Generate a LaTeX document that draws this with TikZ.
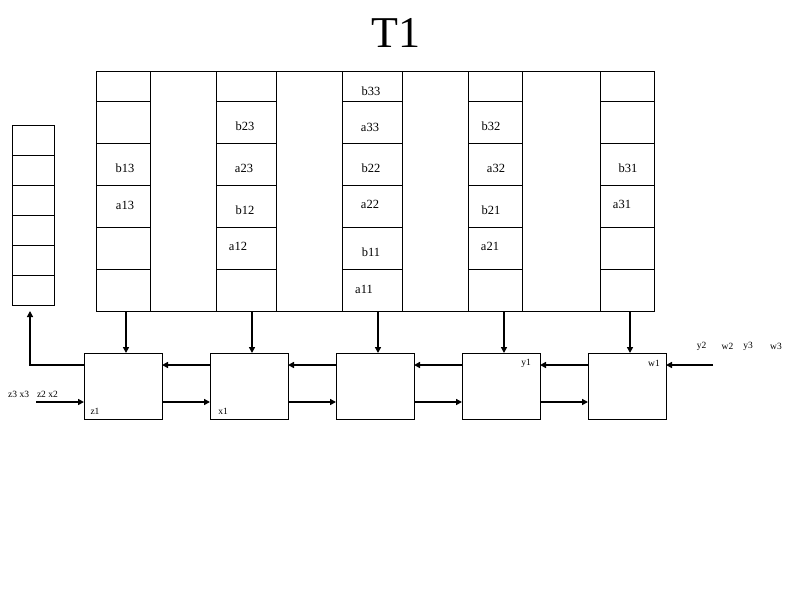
\documentclass[tikz,border=0pt]{standalone}
\usepackage{fontspec}
\setmainfont{Liberation Serif}
\usetikzlibrary{arrows.meta}
\tikzset{
  cell/.style={draw,line width=0.9pt,inner sep=0pt,outer sep=0pt},
  lbl/.style={font=\fontsize{12.5}{14}\selectfont,inner sep=0pt},
  tag/.style={font=\fontsize{9.5}{11}\selectfont,inner sep=0pt},
  flow/.style={-{Triangle[length=6pt,width=6pt]},line width=1.8pt},
}

\begin{document}
\begin{tikzpicture}[x=1pt,y=-1pt]
  \useasboundingbox (0,0) rectangle (794,595);
  \node[font=\fontsize{44}{50}\selectfont,inner sep=0pt] (title) at (396,33) {T1};
  % register columns with cells
  \foreach \c/\cx/\w in {1/123/54,3/246/60,5/372/60,7/495/54,9/627/54}{
    \node[cell,minimum width=\w pt,minimum height=30pt] (c\c1) at (\cx,86) {};
    \foreach \r/\cy in {2/122,3/164,4/206,5/248,6/290}
      \node[cell,minimum width=\w pt,minimum height=42pt] (c\c\r) at (\cx,\cy) {};
  }
  % empty columns between them
  \foreach \g/\cx/\w in {2/183/66,4/309/66,6/435/66,8/561/78}
    \node[cell,minimum width=\w pt,minimum height=240pt] (g\g) at (\cx,191) {};
  % left stack
  \foreach \r in {1,...,6}
    \node[cell,minimum width=42pt,minimum height=30pt] (st\r) at (33,{110+30*\r}) {};
  % processing boxes
  \foreach \k in {1,...,5}
    \node[cell,minimum width=78pt,minimum height=66pt] (bx\k) at ({126*\k-3},386) {};
  % cell labels
  \node[lbl] (b13) at (125,168) {b13};
  \node[lbl] (a13) at (125,205) {a13};
  \node[lbl] (b23) at (245,126) {b23};
  \node[lbl] (a23) at (244,168) {a23};
  \node[lbl] (b12) at (245,210) {b12};
  \node[lbl] (a12) at (238,246) {a12};
  \node[lbl] (b33) at (371,91) {b33};
  \node[lbl] (a33) at (370,127) {a33};
  \node[lbl] (b22) at (371,168) {b22};
  \node[lbl] (a22) at (370,204) {a22};
  \node[lbl] (b11) at (371,252) {b11};
  \node[lbl] (a11) at (364,289) {a11};
  \node[lbl] (b32) at (491,126) {b32};
  \node[lbl] (a32) at (496,168) {a32};
  \node[lbl] (b21) at (491,210) {b21};
  \node[lbl] (a21) at (490,246) {a21};
  \node[lbl] (b31) at (628,168) {b31};
  \node[lbl] (a31) at (622,204) {a31};
  % box labels
  \node[tag] (z1) at (95,411) {z1};
  \node[tag] (x1) at (223,411) {x1};
  \node[tag] (y1) at (526,363) {y1};
  \node[tag] (w1) at (654,363) {w1};
  % input streams
  \node[tag] (zxin) at (33,394) {z3 x3\hspace{8pt}z2 x2};
  \node[tag] (y2) at (701.5,346.5) {y2};
  \node[tag] (w2) at (727.5,346.5) {w2};
  \node[tag] (y3) at (748,346.5) {y3};
  \node[tag] (w3) at (776,346.5) {w3};
  \coordinate (inR) at (713,365);
  \coordinate (inL) at (36,402);
  \coordinate (stin) at (30,311);
  % connectors
  \foreach \k/\c in {1/1,2/3,3/5,4/7,5/9}
    \draw[flow] ([xshift=3pt]bx\k.north |- c\c6.south) -- ([xshift=3pt]bx\k.north);
  \foreach \k in {1,...,4}{
    \pgfmathtruncatemacro{\n}{\k+1}
    \draw[flow] ([yshift=21pt]bx\n.west) -- ([yshift=21pt]bx\k.east);
    \draw[flow] ([yshift=-16pt]bx\k.east) -- ([yshift=-16pt]bx\n.west);
  }
  \draw[flow] (inR) -- (inR -| bx5.east);
  \draw[flow] (inL) -- (inL -| bx1.west);
  \draw[flow,line width=1.2pt] ([yshift=21pt]bx1.west) -| (stin);
\end{tikzpicture}
\end{document}
